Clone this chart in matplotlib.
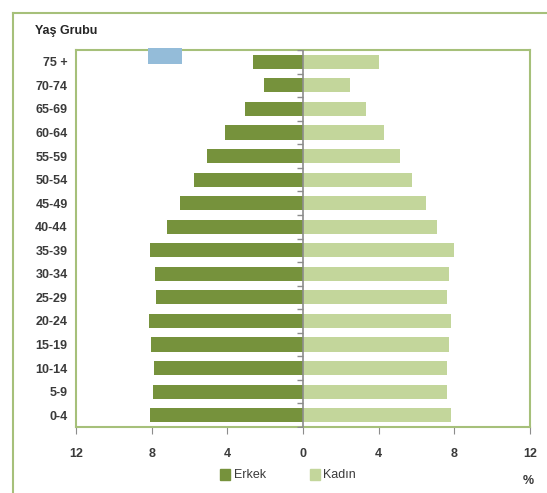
import numpy as np
import matplotlib
matplotlib.use("Agg")
import matplotlib.pyplot as plt
from matplotlib.patches import Rectangle, Patch
from matplotlib.lines import Line2D

plt.rcParams['font.family'] = ['Liberation Sans', 'DejaVu Sans']

age_groups = ["75 +", "70-74", "65-69", "60-64", "55-59", "50-54", "45-49", "40-44",
              "35-39", "30-34", "25-29", "20-24", "15-19", "10-14", "5-9", "0-4"]
erkek = [2.65, 2.05, 3.05, 4.1, 5.05, 5.75, 6.5, 7.2,
         8.1, 7.8, 7.75, 8.15, 8.05, 7.9, 7.95, 8.1]
kadin = [4.0, 2.5, 3.35, 4.3, 5.15, 5.75, 6.5, 7.1,
         8.0, 7.7, 7.6, 7.85, 7.7, 7.6, 7.6, 7.8]
xticks = [-12, -8, -4, 0, 4, 8, 12]
xticklabels = ["12", "8", "4", "0", "4", "8", "12"]

male_c = "#76923c"
female_c = "#c3d69b"
frame_c = "#a6c07a"
text_c = "#3a3a3a"

W, H = 547, 493
fig = plt.figure(figsize=(W / 100, H / 100), dpi=100)
fig.patch.set_facecolor("white")

# outer frame
fig.add_artist(Line2D([13 / W, 1.0], [1 - 13 / H, 1 - 13 / H], transform=fig.transFigure,
                      color=frame_c, lw=1.5))
fig.add_artist(Line2D([13 / W, 13 / W], [1 - 13 / H, 0.0], transform=fig.transFigure,
                      color=frame_c, lw=1.5))

ax = fig.add_axes([76 / W, 1 - 427 / H, (530 - 76) / W, (427 - 50) / H])
y = np.arange(len(age_groups))
ax.barh(y, [-v for v in erkek], height=0.6, color=male_c, edgecolor="none", label="Erkek")
ax.barh(y, kadin, height=0.6, color=female_c, edgecolor="none", label="Kadın")
ax.set_xlim(-12, 12)
ax.set_ylim(len(age_groups) - 0.5, -0.5)

ax.axvline(0, color="#8c8c8c", lw=1.2, zorder=3)
ax.plot(np.zeros(len(age_groups) + 1), np.arange(len(age_groups) + 1) - 0.5,
        linestyle="none", marker=0, markersize=4, color="#8c8c8c", mew=1.0, zorder=3)

for s in ax.spines.values():
    s.set_color(frame_c)
    s.set_linewidth(1.5)

ax.set_xticks(xticks)
ax.set_xticklabels(xticklabels, fontsize=9, fontweight="bold", color=text_c)
ax.tick_params(axis="x", direction="out", length=5, color="#8c8c8c", pad=10)
ax.set_yticks(y)
ax.set_yticklabels(age_groups, fontsize=9, fontweight="bold", color=text_c)
ax.tick_params(axis="y", length=0, pad=6)

fig.text(35 / W, 1 - 31 / H, "Yaş Grubu", fontsize=9, fontweight="bold", color="#262626",
         ha="left", va="center")
fig.text(528 / W, 1 - 481 / H, "%", fontsize=9, fontweight="bold", color=text_c,
         ha="center", va="center")

handles = [Patch(color=male_c, label="Erkek"), Patch(color=female_c, label="Kadın")]
fig.legend(handles=handles, loc="center", bbox_to_anchor=(288 / W, 1 - 475 / H),
           ncol=2, frameon=False, fontsize=9, handlelength=0.8, handleheight=1.0,
           handletextpad=0.3, columnspacing=3.5, labelcolor=text_c)

# blue artifact rectangle
fig.add_artist(Rectangle((148 / W, 1 - 64 / H), 34 / W, 16 / H, transform=fig.transFigure,
                         facecolor="#94bcd9", edgecolor="none", zorder=5))

fig.savefig("out.png", dpi=100)
